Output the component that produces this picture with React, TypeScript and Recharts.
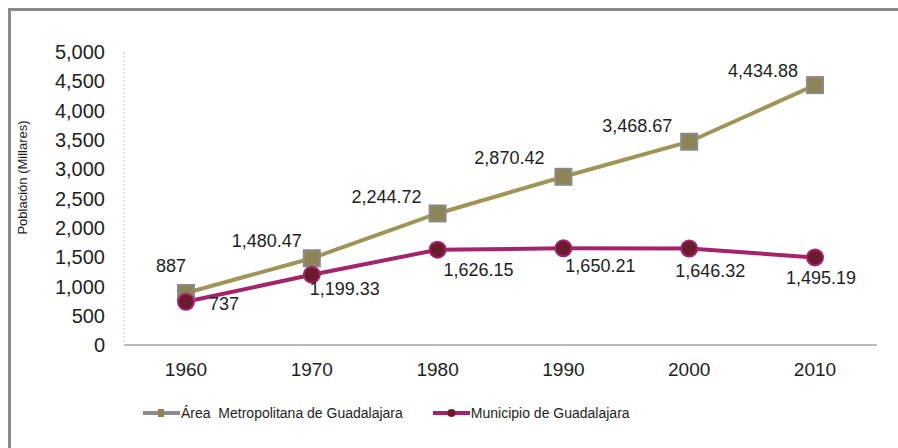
import React from 'react';
import { LineChart, Line, XAxis, YAxis, LabelList } from 'recharts';

const years = ['1960', '1970', '1980', '1990', '2000', '2010'];
const areaMetropolitana = [887, 1480.47, 2244.72, 2870.42, 3468.67, 4434.88];
const municipio = [737, 1199.33, 1626.15, 1650.21, 1646.32, 1495.19];
const yTicks = [0, 500, 1000, 1500, 2000, 2500, 3000, 3500, 4000, 4500, 5000];

const AREA_NAME = 'Área  Metropolitana de Guadalajara';
const MUNI_NAME = 'Municipio de Guadalajara';

const data = years.map((year, i) => ({
  year,
  area: areaMetropolitana[i],
  muni: municipio[i],
}));

// label nudges (Excel placed these by hand)
const areaLabelShift = [[-15, -27], [-45, -17], [-51, -16], [-54, -19], [-52, -16], [-52, -14]];
const muniLabelShift = [[38, 2], [33, 14], [41, 20], [37, 18], [21, 22], [6, 21]];

const FONT = '"Liberation Sans", Arial, sans-serif';
const AREA_LINE = '#9E9559';
const AREA_FILL = '#8D8455';
const MUNI_LINE = '#A3246A';
const MUNI_FILL = '#6A1B2C';

const fmt = (v: number) => v.toLocaleString('en-US', { maximumFractionDigits: 2 });

const makeLabel = (shifts: number[][]) => (props: any) => {
  const { x, y, value, index } = props;
  const [dx, dy] = shifts[index] || [0, -15];
  return (
    <text
      x={x + dx}
      y={y + dy}
      textAnchor="middle"
      dominantBaseline="central"
      fontSize={18}
      fontFamily={FONT}
      fill="#1e1e1e"
    >
      {fmt(value)}
    </text>
  );
};

const SquareDot = (props: any) => {
  const { cx, cy, index } = props;
  return (
    <rect
      key={`sq-${index}`}
      x={cx - 8}
      y={cy - 8}
      width={16}
      height={16}
      fill={AREA_FILL}
      stroke="#8a8a8a"
      strokeWidth={2}
    />
  );
};

const CircleDot = (props: any) => {
  const { cx, cy, index } = props;
  return <circle key={`ci-${index}`} cx={cx} cy={cy} r={8} fill={MUNI_FILL} stroke={MUNI_LINE} strokeWidth={2} />;
};

const YTitle = (props: any) => {
  const { viewBox } = props;
  const x = viewBox.x + 11;
  const y = viewBox.y + viewBox.height / 2 - 21;
  return (
    <text
      x={x}
      y={y}
      transform={`rotate(-90, ${x}, ${y})`}
      textAnchor="middle"
      dominantBaseline="central"
      fontSize={13}
      fontFamily={FONT}
      fill="#1e1e1e"
    >
      Población (Millares)
    </text>
  );
};

const LegendItem = ({ line, marker, label }: { line: string; marker: React.ReactNode; label: string }) => (
  <div style={{ display: 'flex', alignItems: 'center' }}>
    <svg width={37} height={16} style={{ display: 'block' }}>
      <line x1={0} y1={8} x2={37} y2={8} stroke={line} strokeWidth={4} />
      {marker}
    </svg>
    <span style={{ fontSize: 14, whiteSpace: 'pre', marginLeft: 1 }}>{label}</span>
  </div>
);

export default function App() {
  return (
    <div
      style={{
        position: 'absolute',
        top: 8,
        left: 8,
        width: 887,
        height: 437,
        overflow: 'hidden',
        borderTop: '3px solid #8a8a8a',
        borderLeft: '3px solid #8a8a8a',
        fontFamily: FONT,
        color: '#1e1e1e',
        background: '#fff',
      }}
    >
      <LineChart width={887} height={437} data={data} margin={{ top: 41, right: 21, left: 0, bottom: 0 }}>
        <XAxis
          dataKey="year"
          height={103}
          padding={{ left: 62, right: 62 }}
          tickLine={false}
          tickSize={0}
          tickMargin={18}
          axisLine={{ stroke: '#a6a6a6', strokeWidth: 1.5 }}
          tick={{ fontSize: 19, fontFamily: FONT, fill: '#1e1e1e' }}
        />
        <YAxis
          width={113}
          domain={[0, 5000]}
          ticks={yTicks}
          interval={0}
          tickFormatter={fmt}
          tickLine={false}
          tickSize={0}
          tickMargin={19}
          axisLine={{ stroke: '#c4c4c4', strokeDasharray: '2 2' }}
          tick={{ fontSize: 20, fontFamily: FONT, fill: '#1e1e1e' }}
          label={<YTitle />}
        />
        <Line
          dataKey="area"
          name={AREA_NAME}
          stroke={AREA_LINE}
          strokeWidth={4}
          dot={SquareDot}
          activeDot={false}
          isAnimationActive={false}
        >
          <LabelList dataKey="area" content={makeLabel(areaLabelShift)} />
        </Line>
        <Line
          dataKey="muni"
          name={MUNI_NAME}
          stroke={MUNI_LINE}
          strokeWidth={4}
          dot={CircleDot}
          activeDot={false}
          isAnimationActive={false}
        >
          <LabelList dataKey="muni" content={makeLabel(muniLabelShift)} />
        </Line>
      </LineChart>
      <div style={{ position: 'absolute', left: 132, top: 394, display: 'flex', gap: 30 }}>
        <LegendItem
          line="#8c8c8c"
          label={AREA_NAME}
          marker={<rect x={15} y={4} width={6} height={8} fill={AREA_FILL} />}
        />
        <LegendItem
          line={MUNI_LINE}
          label={MUNI_NAME}
          marker={<circle cx={18.5} cy={8} r={4} fill={MUNI_FILL} />}
        />
      </div>
    </div>
  );
}
